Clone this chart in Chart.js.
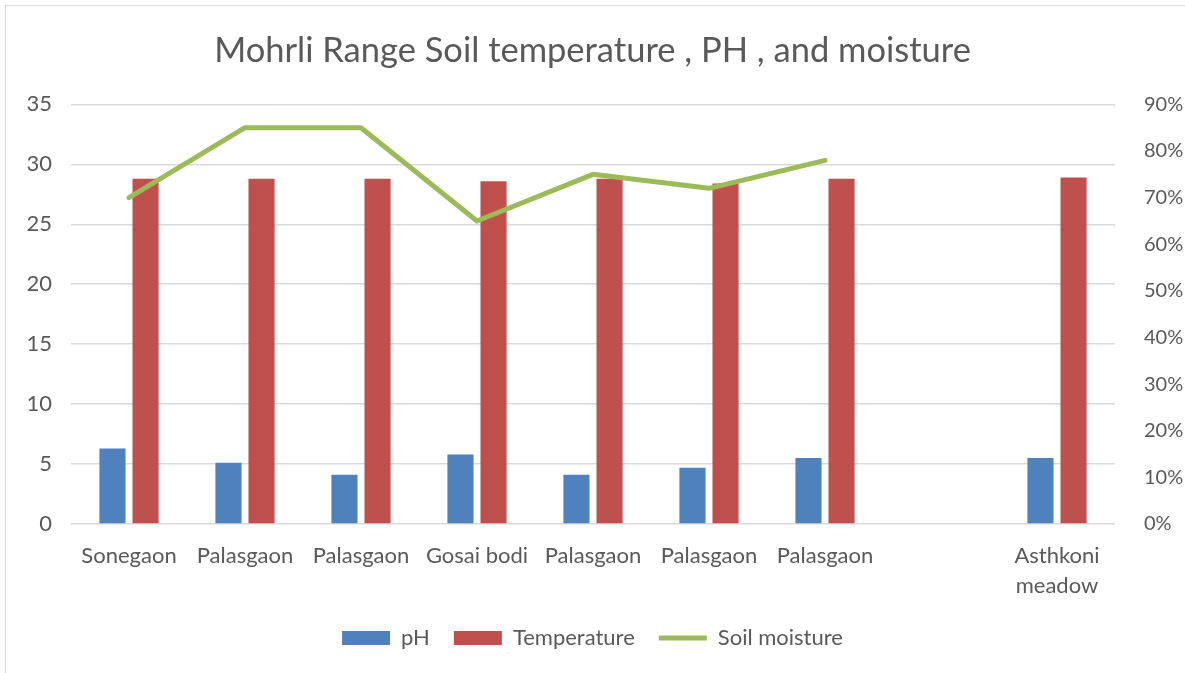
<!DOCTYPE html>
<html>
<head>
<meta charset="utf-8">
<script src="https://cdn.jsdelivr.net/npm/chart.js@4.4.1/dist/chart.umd.min.js"></script>
<style>
  html, body { margin: 0; padding: 0; background: #fff; }
  #wrap { position: relative; width: 1185px; height: 673px; }
  #frame { position: absolute; left: 5px; top: 5px; right: 0; bottom: 0;
           border-left: 1px solid #d9d9d9; border-top: 1px solid #d9d9d9; pointer-events: none; }
</style>
</head>
<body>
<div id="wrap">
  <canvas id="chart" width="1185" height="673"></canvas>
  <div id="frame"></div>
</div>
<script>
const sites = ["Sonegaon", "Palasgaon", "Palasgaon", "Gosai bodi", "Palasgaon",
               "Palasgaon", "Palasgaon", "", ["Asthkoni", "meadow"]];
const phValues = [6.3, 5.1, 4.1, 5.8, 4.1, 4.7, 5.5, null, 5.5];
const tempValues = [28.8, 28.8, 28.8, 28.6, 28.8, 28.4, 28.8, null, 28.9];
const moistureValues = [70, 85, 85, 65, 75, 72, 78, null, null];
const leftTicks = [0, 35, 5];
const rightTicks = [0, 90, 10];

const FONT = "Lato, 'Liberation Sans', sans-serif";
const GREY = "#595959";

const ctx = document.getElementById("chart").getContext("2d");
new Chart(ctx, {
  data: {
    labels: sites,
    datasets: [
      { type: "bar", label: "pH", data: phValues, backgroundColor: "#4f81bd",
        yAxisID: "y", order: 1, pointStyle: "rect",
        categoryPercentage: 0.57, barPercentage: 0.79 },
      { type: "bar", label: "Temperature", data: tempValues, backgroundColor: "#c0504d",
        yAxisID: "y", order: 1, pointStyle: "rect",
        categoryPercentage: 0.57, barPercentage: 0.79 },
      { type: "line", label: "Soil moisture", data: moistureValues, borderColor: "#9bbb59",
        backgroundColor: "#9bbb59", borderWidth: 5, pointRadius: 0, pointStyle: "line",
        borderCapStyle: "round", borderJoinStyle: "round",
        yAxisID: "y1", order: 0, spanGaps: false }
    ]
  },
  options: {
    responsive: false,
    animation: false,
    layout: { padding: { left: 0, right: 0, top: 0, bottom: 14 } },
    plugins: {
      title: {
        display: true,
        text: "Mohrli Range Soil temperature , PH , and moisture",
        color: GREY,
        font: { family: FONT, size: 34.5, weight: "normal" },
        padding: { top: 30, bottom: 33 }
      },
      legend: {
        position: "bottom",
        labels: {
          color: GREY,
          font: { family: FONT, size: 22 },
          usePointStyle: true,
          pointStyleWidth: 48,
          boxHeight: 14,
          padding: 24,
          sort: (a, b) => a.datasetIndex - b.datasetIndex
        }
      },
      tooltip: { enabled: false }
    },
    scales: {
      x: {
        grid: { display: false },
        border: { display: false },
        ticks: { color: GREY, font: { family: FONT, size: 22, lineHeight: 1.35 },
                 maxRotation: 0, autoSkip: false, padding: 9 },
        afterFit: s => { s.height = 79; }
      },
      y: {
        position: "left",
        min: leftTicks[0], max: leftTicks[1],
        ticks: { stepSize: leftTicks[2], color: GREY, font: { family: FONT, size: 22 }, padding: 19 },
        grid: { color: "#d9d9d9", lineWidth: 1.5, drawTicks: false },
        border: { display: false },
        afterFit: s => { s.width = 71; }
      },
      y1: {
        position: "right",
        min: rightTicks[0], max: rightTicks[1],
        ticks: { stepSize: rightTicks[2], color: GREY, font: { family: FONT, size: 20 },
                 padding: 21, callback: v => v + "%" },
        grid: { display: false },
        border: { display: false },
        afterFit: s => { s.width = 70; }
      }
    }
  }
});
</script>
</body>
</html>
